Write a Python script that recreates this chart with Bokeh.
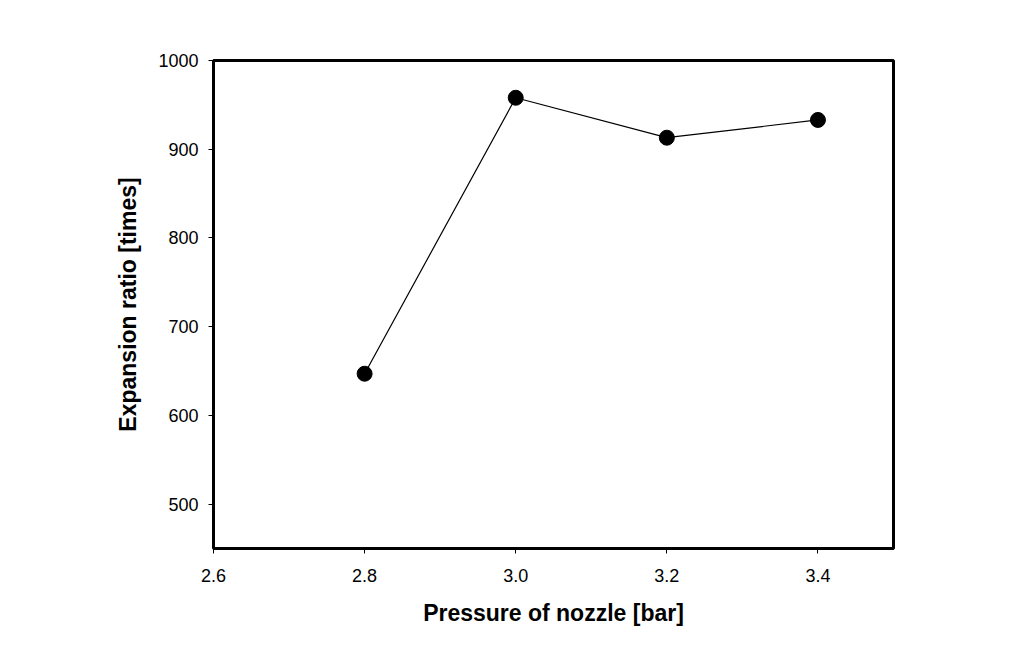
from bokeh.plotting import figure
from bokeh.models import FixedTicker, PrintfTickFormatter, Range1d
from bokeh.embed import file_html
from bokeh.resources import INLINE

pressure = [2.8, 3.0, 3.2, 3.4]
expansion = [647, 958, 913, 933]
x_ticks = [2.6, 2.8, 3.0, 3.2, 3.4]
y_ticks = [500, 600, 700, 800, 900, 1000]

p = figure(width=990, height=630, output_backend="svg", toolbar_location=None,
           x_range=Range1d(2.6, 3.5), y_range=Range1d(450, 1000),
           min_border_left=213, min_border_top=60, min_border_right=97, min_border_bottom=82)
p.line(pressure, expansion, line_color="black", line_width=1.2)
p.scatter(pressure, expansion, size=15, fill_color="black", line_color="black")

p.grid.visible = False
p.outline_line_color = "black"
p.outline_line_width = 3
p.outline_line_alpha = 1

for ax in (p.xaxis[0], p.yaxis[0]):
    ax.axis_line_color = None
    ax.major_tick_in = 0
    ax.major_tick_out = 5
    ax.major_tick_line_color = "black"
    ax.minor_tick_line_color = None
    ax.major_label_text_font = "Liberation Sans"
    ax.major_label_text_font_size = "18px"
    ax.major_label_text_color = "black"
    ax.axis_label_text_font = "Liberation Sans"
    ax.axis_label_text_font_size = "23px"
    ax.axis_label_text_font_style = "bold"
    ax.axis_label_text_color = "black"

p.xaxis[0].ticker = FixedTicker(ticks=x_ticks)
p.xaxis[0].formatter = PrintfTickFormatter(format="%.1f")
p.yaxis[0].ticker = FixedTicker(ticks=y_ticks)
p.xaxis[0].axis_label = "Pressure of nozzle [bar]"
p.yaxis[0].axis_label = "Expansion ratio [times]"
p.xaxis[0].major_label_standoff = 15
p.xaxis[0].axis_label_standoff = 15
p.yaxis[0].major_label_standoff = 10
p.yaxis[0].axis_label_standoff = 14

open("out.html", "w").write(file_html(p, INLINE))
